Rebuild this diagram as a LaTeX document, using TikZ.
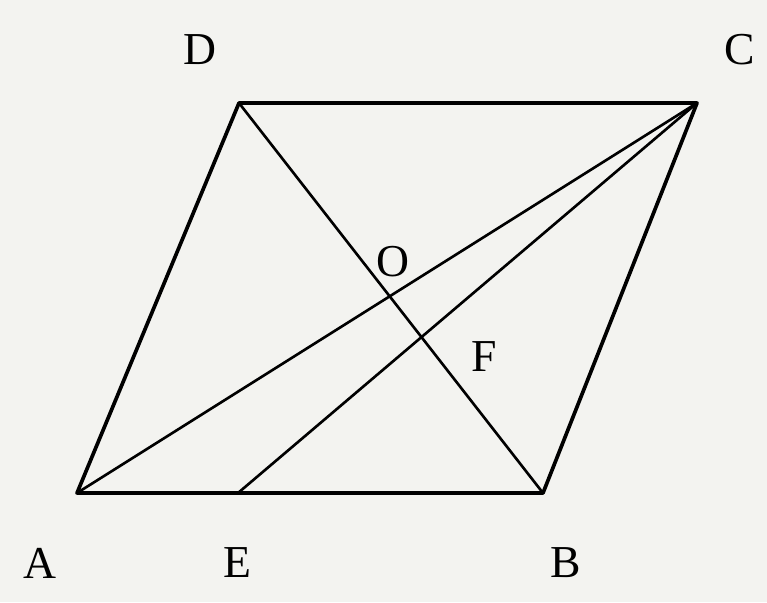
\documentclass[tikz,border=0pt]{standalone}
\usepackage{fontspec}
\setmainfont{Liberation Serif}
\usetikzlibrary{intersections}
\definecolor{paper}{HTML}{F3F3F0}
\begin{document}
\begin{tikzpicture}[x=0.02cm,y=-0.02cm,
  edge/.style={line width=2.1pt,line join=round,line cap=round},
  inner/.style={line width=1.5pt,line cap=round},
  lbl/.style={font=\fontsize{26}{28}\selectfont,inner sep=0pt}]
\fill[paper] (0,0) rectangle (767,602);
\useasboundingbox (0,0) rectangle (767,602);
\coordinate (A) at (77,493);
\coordinate (B) at (543,493);
\coordinate (C) at (697,103);
\coordinate (D) at (239,103);
\coordinate (E) at (238,493);
\draw[edge] (A) -- (B) -- (C) -- (D) -- cycle;
\draw[inner,name path=ac] (A) -- (C);
\draw[inner,name path=bd] (B) -- (D);
\draw[inner,name path=ec] (E) -- (C);
\path[name intersections={of=ac and bd,by=O}];
\path[name intersections={of=ec and bd,by=F}];
\node[lbl] (lA) at (40,563) {A};
\node[lbl] (lB) at (566,563) {B};
\node[lbl] (lC) at (740,50) {C};
\node[lbl] (lD) at (200,50) {D};
\node[lbl] (lE) at (237,563) {E};
\node[lbl] (lO) at (393,262) {O};
\node[lbl] (lF) at (484,357) {F};
\end{tikzpicture}
\end{document}
